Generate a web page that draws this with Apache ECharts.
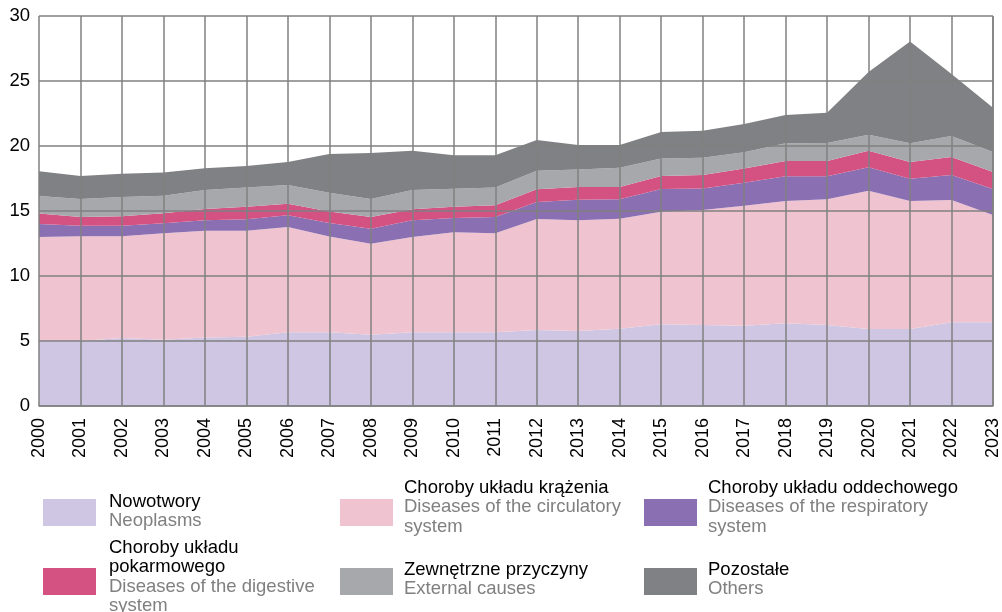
<!DOCTYPE html>
<html>
<head>
<meta charset="utf-8">
<script src="https://cdn.jsdelivr.net/npm/echarts@6/dist/echarts.min.js"></script>
<style>html,body{margin:0;padding:0;background:#fff;}#c{width:1002px;height:612px;}</style>
</head>
<body>
<div id="c"></div>
<script>
var years = ['2000','2001','2002','2003','2004','2005','2006','2007','2008','2009','2010','2011','2012','2013','2014','2015','2016','2017','2018','2019','2020','2021','2022','2023'];
var neoplasms   = [5.0,5.0,5.23,5.1,5.26,5.33,5.67,5.67,5.49,5.67,5.67,5.67,5.85,5.77,5.95,6.28,6.23,6.18,6.36,6.23,5.92,5.92,6.44,6.44];
var circulatory = [8.0,8.05,7.82,8.18,8.23,8.16,8.1,7.36,7.0,7.33,7.69,7.61,8.53,8.51,8.46,8.67,8.85,9.23,9.41,9.67,10.64,9.85,9.41,8.25];
var respiratory = [1.0,0.82,0.82,0.77,0.79,0.87,0.9,1.05,1.15,1.28,1.1,1.26,1.31,1.59,1.49,1.74,1.66,1.77,1.9,1.77,1.8,1.72,1.92,2.0];
var digestive   = [0.8,0.67,0.73,0.77,0.87,0.97,0.89,0.89,0.9,0.85,0.87,0.9,0.98,0.98,0.95,1.0,1.03,1.08,1.18,1.18,1.28,1.28,1.38,1.31];
var external    = [1.35,1.38,1.48,1.36,1.47,1.47,1.44,1.44,1.38,1.49,1.39,1.36,1.43,1.35,1.48,1.34,1.33,1.25,1.36,1.38,1.23,1.44,1.62,1.54];
var others      = [1.9,1.77,1.79,1.79,1.66,1.66,1.77,2.97,3.54,3.02,2.56,2.48,2.36,1.88,1.75,2.05,2.08,2.18,2.17,2.33,4.82,7.82,4.77,3.41];
var yTicks = [0,5,10,15,20,25,30];
var namesPl = ['Nowotwory','Choroby układu krążenia','Choroby układu oddechowego','Choroby układu\npokarmowego','Zewnętrzne przyczyny','Pozostałe'];
var namesEn = ['Neoplasms','Diseases of the circulatory\nsystem','Diseases of the respiratory\nsystem','Diseases of the digestive\nsystem','External causes','Others'];
var colors = ['#cec6e3','#efc4d0','#8a70b3','#d45282','#a7a8ab','#808184'];
var seriesData = [neoplasms, circulatory, respiratory, digestive, external, others];

var chart = echarts.init(document.getElementById('c'));
var font = 'Liberation Sans, Arial, sans-serif';
var series = seriesData.map(function(d, i){
  return {
    name: namesEn[i], type: 'line', stack: 'total', data: d,
    symbol: 'none', lineStyle: {width: 0}, areaStyle: {color: colors[i], opacity: 1},
    itemStyle: {color: colors[i]}, z: 1, silent: true
  };
});

// legend via graphics
var legendPos = [
  {x:43, y:499, tx:109, ty:492},
  {x:340, y:499, tx:404, ty:478},
  {x:644, y:499, tx:708, ty:478},
  {x:43, y:568, tx:109, ty:538},
  {x:340, y:568, tx:404, ty:560},
  {x:644, y:568, tx:708, ty:560}
];
var graphics = [];
legendPos.forEach(function(p, i){
  graphics.push({type:'rect', left:p.x, top:p.y, shape:{width:53, height:27}, style:{fill:colors[i]}});
  graphics.push({type:'text', left:p.tx, top:p.ty, style:{
    rich: {pl:{fill:'#000', fontSize:18.5, lineHeight:19.5, fontFamily:font}, en:{fill:'#808080', fontSize:18.5, lineHeight:19.5, fontFamily:font}},
    text: namesPl[i].split('\n').map(function(s){return '{pl|'+s+'}';}).join('\n') + '\n' + namesEn[i].split('\n').map(function(s){return '{en|'+s+'}';}).join('\n')
  }});
});

chart.setOption({
  animation: false,
  grid: {left: 39, right: 9, top: 16, bottom: 206, containLabel: false},
  xAxis: {
    type: 'category', data: years, boundaryGap: false, z: 5,
    axisLine: {show: true, lineStyle: {color: '#808080', width: 1.5}},
    axisTick: {show: false},
    axisLabel: {rotate: 90, fontSize: 18, color: '#000', fontFamily: font, margin: 12, interval: 0},
    splitLine: {show: true, lineStyle: {color: '#808080', width: 1.5}}
  },
  yAxis: {
    type: 'value', min: 0, max: 30, interval: 5, z: 5,
    axisLine: {show: false}, axisTick: {show: false},
    axisLabel: {fontSize: 18.5, color: '#000', fontFamily: font, margin: 9},
    splitLine: {show: true, lineStyle: {color: '#808080', width: 1.5}}
  },
  graphic: graphics.concat([{type:'line', shape:{x1:993, y1:16, x2:993, y2:406}, style:{stroke:'#808080', lineWidth:1.5}, z:10}]),
  series: series
});
</script>
</body>
</html>
